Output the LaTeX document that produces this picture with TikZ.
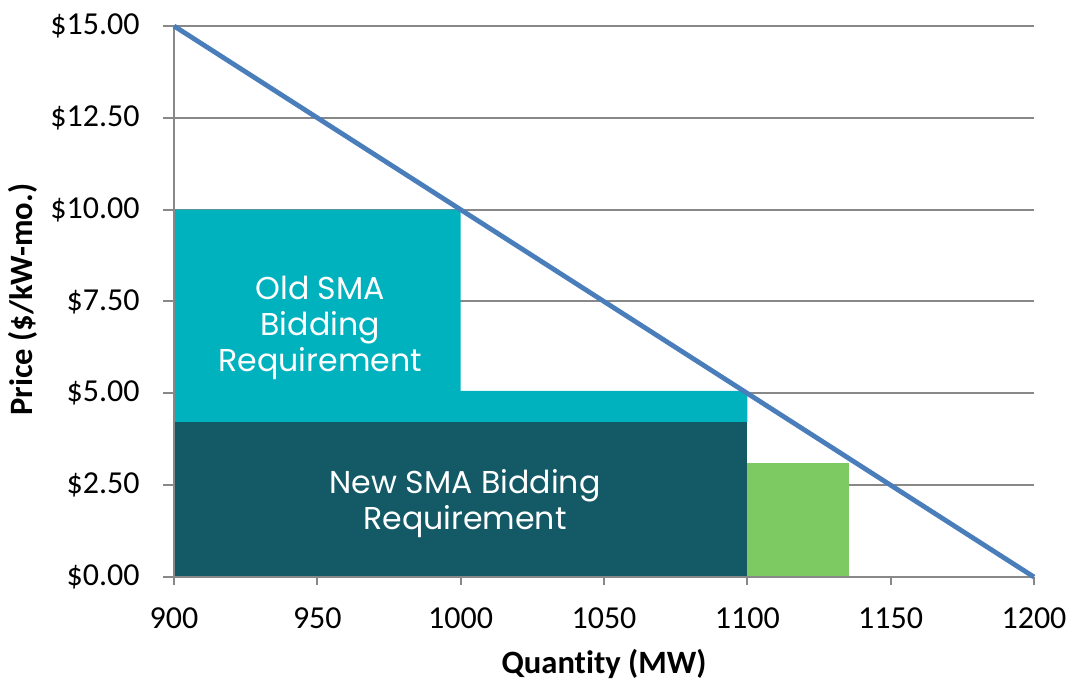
\documentclass[tikz,border=0pt]{standalone}
\usepackage{fontspec}
\setmainfont{Carlito}[Ligatures=NoCommon]
\newfontfamily\boxfont{Poppins}

\definecolor{oldsma}{HTML}{00B2BE}
\definecolor{newsma}{HTML}{135A66}
\definecolor{extrasma}{HTML}{7DC962}
\definecolor{demand}{HTML}{4A7EBB}
\definecolor{gridgray}{HTML}{888888}

\begin{document}
\begin{tikzpicture}[x=1.4333pt, y=18.367pt]
    \tikzstyle{grid}=[draw=gridgray, line width=1pt]
    \tikzstyle{ticklabel}=[font=\fontsize{16}{18}\selectfont, inner sep=0pt]
    \tikzstyle{axislabel}=[font=\fontsize{16.3}{18}\selectfont\bfseries, inner sep=0pt]
    \tikzstyle{boxtext}=[font=\boxfont\fontsize{15.8}{18}\selectfont, text=white, align=center, inner sep=0pt]

    \useasboundingbox (-87pt,-52pt) rectangle (447.5pt,288.5pt);

    % horizontal grid lines with tick marks on the price axis
    \foreach \p/\lab [count=\i] in {0/0.00, 2.5/2.50, 5/5.00, 7.5/7.50, 10/10.00, 12.5/12.50, 15/15.00} {
        \draw[grid] (0,\p) ++(-5.5pt,0) -- (300,\p);
        \node[ticklabel, anchor=east] (py\i) at ([xshift=-17pt]0,\p) {\$\lab};
    }

    % bidding requirement blocks
    \fill[newsma] (0,0) rectangle (200,4.22);
    \fill[oldsma] (0,4.22) -- (0,10) -- (100,10) -- (100,5.07) -- (200,5.07) -- (200,4.22) -- cycle;
    \fill[extrasma] (200,0) rectangle (235.5,3.1);

    % axes
    \draw[grid] (0,0) -- (0,15);
    \draw[grid] (0,0) -- (300,0);
    \foreach \q [count=\i] in {900,950,...,1200} {
        \draw[grid] (\q-900,0) -- ++(0,-4pt);
        \node[ticklabel] (qx\i) at ([yshift=-20.5pt]\q-900,0) {\q};
    }

    % demand curve
    \coordinate (dtop) at (0,15);
    \coordinate (dbot) at (300,0);
    \draw[demand, line width=2.4pt] (dtop) -- (dbot);

    \node[boxtext] (oldlab) at (51,6.78) {Old SMA\\Bidding\\Requirement};
    \node[boxtext] (newlab) at (101.5,2.0) {New SMA Bidding\\Requirement};

    \node[axislabel] (qtitle) at ([yshift=-43.5pt]150,0) {Quantity (MW)};
    \node[axislabel, rotate=90] (ptitle) at ([xshift=-75.5pt]0,7.55) {Price (\$/kW-mo.)};
\end{tikzpicture}
\end{document}
